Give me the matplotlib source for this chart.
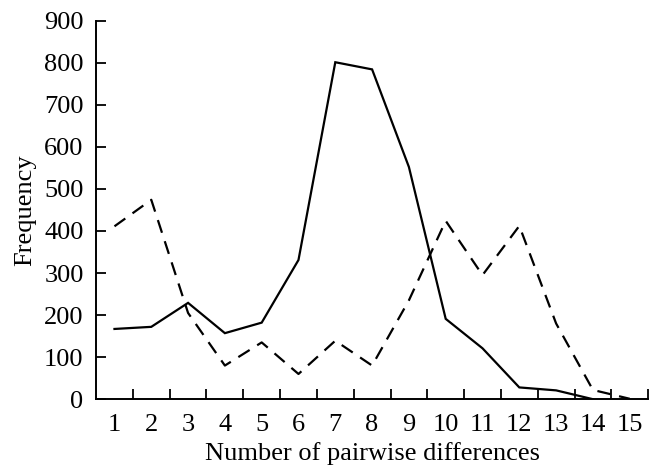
import matplotlib
matplotlib.use("Agg")
import matplotlib.pyplot as plt
import numpy as np

categories = list(range(1, 16))
solid_x = list(range(1, 15))
solid_values = [167, 172, 229, 157, 182, 331, 801, 784, 552, 191, 121, 28, 21, 0]
dashed_x = list(range(1, 16))
dashed_values = [411, 474, 205, 80, 135, 60, 139, 80, 235, 424, 295, 412, 180, 22, 1]
y_ticks = [0, 100, 200, 300, 400, 500, 600, 700, 800, 900]

plt.rcParams['font.family'] = ['Liberation Serif', 'DejaVu Serif']

fig = plt.figure(figsize=(6.58, 4.68), dpi=100)
ax = fig.add_axes([0.146, 0.147, 0.839, 0.809])

ax.plot(solid_x, solid_values, color='black', lw=1.6, solid_joinstyle='miter')
ax.plot(dashed_x, dashed_values, color='black', lw=1.6, linestyle=(0, (6, 4)))

ax.set_xlim(0.5, 15.5)
ax.set_ylim(0, 900)
ax.set_yticks(y_ticks)
ax.set_xticks(categories)
ax.set_xticks(np.arange(1.5, 16, 1.0), minor=True)
ax.tick_params(axis='x', which='major', length=0, pad=11, labelsize=19)
ax.tick_params(axis='x', which='minor', length=7, width=1.3, direction='in')
ax.tick_params(axis='y', which='major', length=7, width=1.3, direction='in', pad=9, labelsize=19)

for s in ['top', 'right']:
    ax.spines[s].set_visible(False)
for s in ['left', 'bottom']:
    ax.spines[s].set_linewidth(1.4)

ax.set_xlabel('Number of pairwise differences', fontsize=19, labelpad=4)
ax.set_ylabel('Frequency', fontsize=19, labelpad=6)

fig.savefig('out.png', dpi=100)
